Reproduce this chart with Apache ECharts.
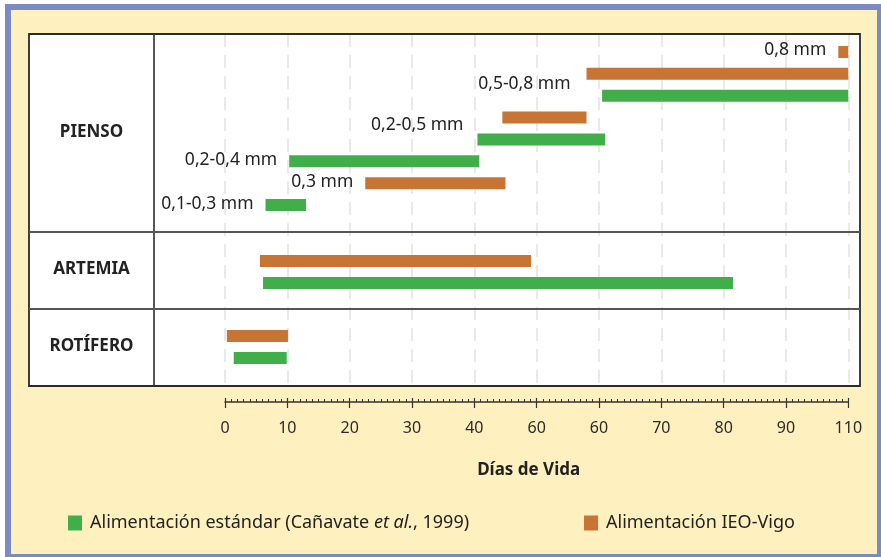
<!DOCTYPE html>
<html><head><meta charset="utf-8">
<script src="https://cdn.jsdelivr.net/npm/echarts@6/dist/echarts.min.js"></script>
<style>
html,body{margin:0;padding:0;background:#fff;}
#frame{position:absolute;left:5px;top:4px;width:876px;height:553px;background:#7b8bc0;}
#inner{position:absolute;left:11px;top:10px;width:866px;height:544px;background:#fff0bf;}
#c{position:absolute;left:0;top:0;width:881px;height:557px;}
</style></head><body>
<div id="frame"></div><div id="inner"></div><div id="c"></div>
<script>
// ---- data ----
const xTickLabels = ['0','10','20','30','40','60','60','70','80','90','110'];
const rowNames = ['PIENSO','ARTEMIA','ROTÍFERO'];
const feedNames = ['Alimentación estándar (Cañavate et al., 1999)','Alimentación IEO-Vigo'];
const axisTitle = 'Días de Vida';
// PIENSO lanes, top to bottom (0 = estándar, 1 = IEO-Vigo)
const piensoFeed  = [1, 1, 0, 1, 0, 0, 1, 0];
const piensoStart = [98.4, 58, 60.5, 44.5, 40.5, 10.3, 22.5, 6.5];
const piensoEnd   = [100, 100, 100, 58, 61, 40.8, 45, 13];
const piensoSize  = ['0,8 mm','0,5-0,8 mm','','','0,2-0,5 mm','0,2-0,4 mm','0,3 mm','0,1-0,3 mm'];
const artemiaFeed  = [1, 0];
const artemiaStart = [5.6, 6.1];
const artemiaEnd   = [49.1, 81.5];
const rotiferoFeed  = [1, 0];
const rotiferoStart = [0.3, 1.4];
const rotiferoEnd   = [10.1, 9.9];

// ---- styles ----
const FONT = '"Noto Sans", "DejaVu Sans", sans-serif';
const colors = ['#40af4a', '#c87435'];
const labelOffsets = {1: [0, 10], 4: [0, -14]};
const labelDist = {1: 16, 4: 14};
const plotLeft = 225, plotWidth = 623.3;

const chart = echarts.init(document.getElementById('c'));

const grids = [
  {left: plotLeft, width: plotWidth, top: 34, height: 352},
  {left: plotLeft, width: plotWidth, top: 41.07, height: 174.9},
  {left: plotLeft, width: plotWidth, top: 250, height: 44},
  {left: plotLeft, width: plotWidth, top: 325, height: 44}
];

const xAxes = [
  {
    gridIndex: 0, type: 'value', min: 0, max: 100, interval: 10, position: 'bottom', offset: 16,
    axisLine: {show: true, onZero: false, lineStyle: {color: '#333', width: 1.5}},
    axisTick: {show: true, inside: true, length: 4, lineStyle: {color: '#333', width: 1.2}},
    minorTick: {show: true, splitNumber: 10, length: 3, lineStyle: {color: '#333', width: 1}},
    splitLine: {show: true, lineStyle: {color: '#e2e2e2', width: 1.5, type: [13, 8]}},
    axisLabel: {
      margin: 18, fontSize: 16, color: '#2a2a2a', fontFamily: FONT,
      formatter: (v) => xTickLabels[Math.round(v / 10)]
    },
    name: axisTitle, nameLocation: 'middle', nameGap: 60,
    nameTextStyle: {fontSize: 17, fontWeight: 'bold', color: '#222', fontFamily: FONT, padding: [0, 16, 0, 0]}
  },
  {
    gridIndex: 0, type: 'value', min: 0, max: 100, interval: 10, position: 'bottom', offset: 16,
    axisLine: {show: false, onZero: false}, axisLabel: {show: false}, splitLine: {show: false},
    axisTick: {show: true, inside: false, length: 6, lineStyle: {color: '#333', width: 1.2}}
  }
];
const yAxes = [{gridIndex: 0, type: 'value', show: false, min: 0, max: 1}];
for (let g = 1; g <= 3; g++) {
  xAxes.push({gridIndex: g, type: 'value', min: 0, max: 100, show: false});
}
const rows = [
  [piensoFeed, piensoStart, piensoEnd, piensoSize],
  [artemiaFeed, artemiaStart, artemiaEnd, null],
  [rotiferoFeed, rotiferoStart, rotiferoEnd, null]
];
const series = [];
rows.forEach(([feed, start, end, sizes], r) => {
  const g = r + 1;
  yAxes.push({gridIndex: g, type: 'category', inverse: true, show: false, data: start.map((_, i) => 'L' + i)});
  const common = {type: 'bar', xAxisIndex: g + 1, yAxisIndex: g, stack: 'row' + g, barWidth: 12, animation: false};
  series.push(Object.assign({}, common, {
    name: 'base' + g, data: start, itemStyle: {color: 'rgba(0,0,0,0)'}, silent: true
  }));
  [0, 1].forEach(f => {
    series.push(Object.assign({}, common, {
      name: feedNames[f],
      itemStyle: {color: colors[f]},
      data: start.map((s, i) => {
        if (feed[i] !== f) return '-';
        const item = {value: end[i] - s};
        if (sizes && sizes[i]) {
          item.label = {
            show: true, position: 'left', distance: (labelDist[i] || 12),
            offset: labelOffsets[i] || [0, -1.5],
            formatter: sizes[i], color: '#222', fontSize: 17.5, fontFamily: FONT
          };
        }
        return item;
      })
    }));
  });
});

const legendText = {
  fontSize: 18, color: '#222', fontFamily: FONT, padding: [0, 0, 0, 3],
  rich: {
    n: {fontSize: 18, color: '#222', fontFamily: FONT},
    i: {fontSize: 18, color: '#222', fontFamily: FONT, fontStyle: 'italic'}
  }
};
const legendFmt = (name) => {
  if (name === feedNames[0]) {
    const parts = name.split('et al.');
    return '{n|' + parts[0] + '}{i|et al.}{n|' + parts[1] + '}';
  }
  return '{n|' + name + '}';
};

const boxL = 29, boxT = 34, boxR = 860, boxB = 386, divX = 154;
const sepY = [232, 309];
const rowCenters = [132.5, 269.5, 346.5];

const graphic = [
  {type: 'rect', z: -10, shape: {x: boxL, y: boxT, width: boxR - boxL, height: boxB - boxT},
   style: {fill: '#fff'}},
  {type: 'rect', z: 10, shape: {x: boxL, y: boxT, width: boxR - boxL, height: boxB - boxT},
   style: {fill: 'none', stroke: '#2b2b2b', lineWidth: 1.8}},
  {type: 'line', z: 10, shape: {x1: divX, y1: boxT, x2: divX, y2: boxB}, style: {stroke: '#2b2b2b', lineWidth: 1.6}},
  ...sepY.map(y => ({type: 'line', z: 10, shape: {x1: boxL, y1: y, x2: boxR, y2: y}, style: {stroke: '#555', lineWidth: 1.8}})),
  ...rowNames.map((t, i) => ({
    type: 'text', z: 10, x: (boxL + divX) / 2, y: rowCenters[i],
    style: {text: t, textAlign: 'center', textVerticalAlign: 'middle', fill: '#222',
            font: 'bold 17px ' + FONT}
  }))
];

chart.setOption({
  animation: false,
  grid: grids,
  xAxis: xAxes,
  yAxis: yAxes,
  series: series,
  graphic: graphic,
  legend: [
    {data: [feedNames[0]], left: 68, top: 514, padding: 0, icon: 'rect', itemWidth: 14, itemHeight: 15,
     selectedMode: false, textStyle: legendText, formatter: legendFmt},
    {data: [feedNames[1]], left: 584, top: 514, padding: 0, icon: 'rect', itemWidth: 14, itemHeight: 15,
     selectedMode: false, textStyle: legendText, formatter: legendFmt}
  ]
});
</script>
</body></html>
